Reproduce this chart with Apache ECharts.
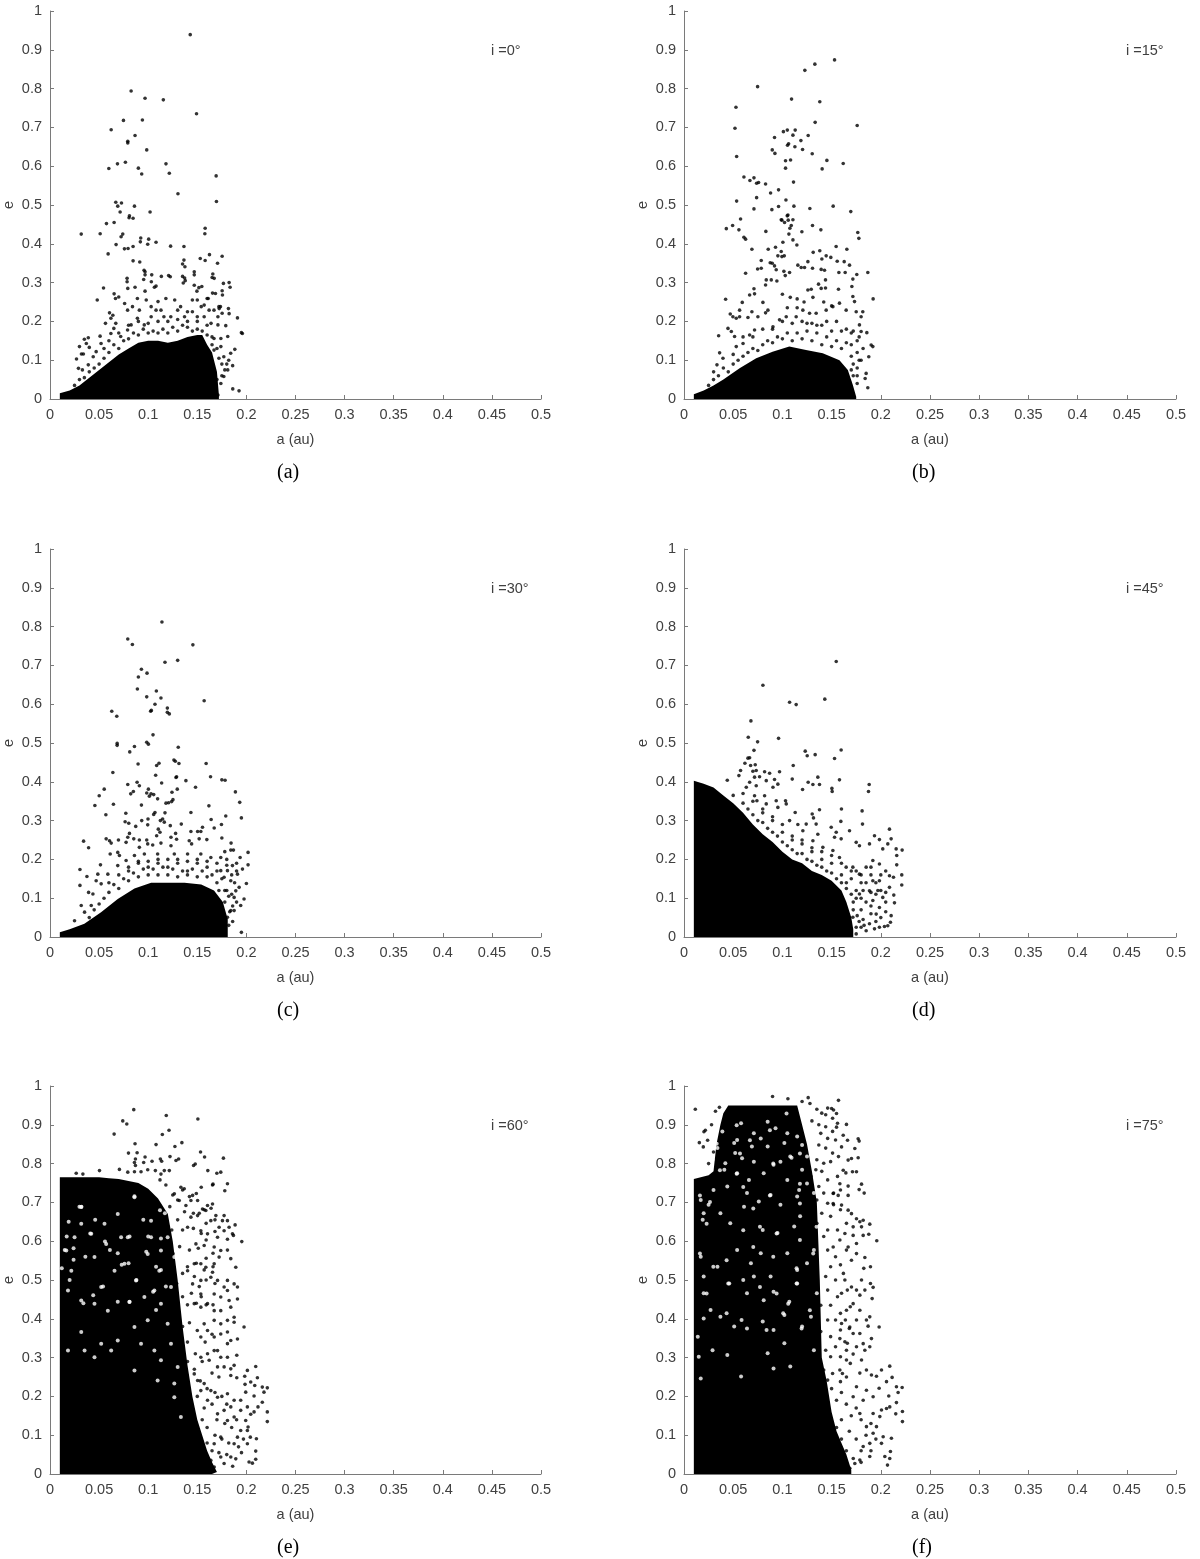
<!DOCTYPE html>
<html lang="en">
  <head>
    <meta charset="UTF-8" />
    <title>a-e scatter</title>
    <style>
      html, body { margin: 0; background: #fff; }
      #main { width: 1200px; height: 1559px; }
    </style>
  </head>
  <body>
    <div id="main"></div>
    <script src="https://cdn.jsdelivr.net/npm/echarts@6/dist/echarts.min.js"></script>
    <script>
      const inclinations = ["i =0°", "i =15°", "i =30°", "i =45°", "i =60°", "i =75°"];
      const captions = ["(a)", "(b)", "(c)", "(d)", "(e)", "(f)"];

      // individual dots, [a, e]
      const pointsA = [[.1428,.939],[.0826,.794],[.0968,.775],[.1154,.771],[.1492,.735],[.0748,.718],[.0941,.719],[.0623,.694],[.0866,.679],[.0792,.664],[.0792,.66],[.0985,.642],[.0768,.61],[.0687,.606],[.1181,.606],[.0599,.594],[.09,.595],[.0934,.58],[.1215,.582],[.1692,.575],[.1303,.529],[.1695,.509],[.067,.507],[.0728,.505],[.069,.497],[.086,.497],[.0714,.482],[.1019,.482],[.0809,.472],[.0805,.467],[.0846,.466],
        [.0318,.425],[.0511,.426],[.0575,.452],[.0653,.455],[.0741,.425],[.0724,.418],[.0673,.398],[.0592,.374],[.0758,.387],[.0795,.388],[.0846,.393],[.0924,.415],[.092,.405],[.1005,.412],[.0995,.399],[.108,.404],[.1228,.394],[.1364,.393],[.158,.44],[.1577,.426],[.153,.362],[.158,.357],[.1624,.372],[.1753,.368],[.1706,.35],[.0846,.356],[.0914,.353],[.1364,.358],[.135,.348],[.1374,.341],[.1469,.328],[.1469,.32],[.0958,.332],[.0968,.328],[.0968,.32],[.1036,.32],[.0954,.308],[.1032,.302],[.108,.291],[.1063,.288],[.1134,.316],[.1208,.318],[.1225,.315],[.135,.316],[.1371,.312],[.1357,.299],[.1377,.305],[.0785,.311],[.0785,.302],[.0792,.285],[.0545,.286],[.0866,.288],[.0968,.278],[.0481,.255],[.0653,.271],[.07,.263],[.0667,.259],[.1469,.293],[.1516,.287],[.1546,.29],[.1496,.278],[.1658,.322],[.1672,.311],[.1651,.313],[.1766,.298],[.1753,.279],[.1756,.268],[.1685,.272],[.1655,.273],[.1611,.259],[.1824,.3],[.1834,.288],[.1817,.233],[.1824,.22],[.1753,.221],[.1723,.233],[.1736,.238],[.1909,.209],[.1949,.171],[.1959,.169],[.1882,.128],[.1861,.026],[.1925,.021],
        [.039,.158],[.035,.154],[.03,.135],[.037,.143],[.04,.133],[.032,.116],[.034,.116],[.027,.103],[.029,.079],[.033,.075],[.039,.088],[.044,.109],[.051,.162],[.0565,.195],[.0606,.222],[.064,.216],[.062,.208],[.065,.182],[.067,.195],[.052,.143],[.047,.122],[.062,.169],[.072,.161],[.079,.178],[.0826,.191],[.089,.208],[.096,.191],[.103,.212],[.108,.229],[.113,.229],[.116,.212],[.123,.212],[.13,.229],[.133,.238],[.137,.212],[.127,.255],[.118,.259],[.11,.251],[.098,.255],[.089,.259],[.084,.238],[.076,.246],[.079,.229],[.091,.229],[.103,.238],[.145,.255],[.15,.255],[.154,.238],[.14,.225],[.145,.225],[.15,.212],[.157,.242],[.162,.229],[.16,.259],[.167,.229],[.172,.238],[.171,.212],[.157,.212],[.164,.195],[.171,.191],[.179,.189],[.167,.156],[.174,.156],[.181,.161],[.184,.118],[.186,.086],[.182,.1],[.177,.109],[.174,.135],[.167,.126],[.181,.075],[.177,.058],[.174,.04],[.169,.032],[.171,.01],
        [.05,.09],[.055,.105],[.06,.12],[.065,.14],[.07,.13],[.075,.15],[.08,.155],[.085,.17],[.09,.165],[.095,.18],[.1,.17],[.105,.175],[.11,.17],[.115,.18],[.12,.17],[.125,.185],[.13,.175],[.135,.19],[.14,.185],[.145,.175],[.15,.18],[.155,.175],[.16,.165],[.165,.16],[.165,.14],[.17,.13],[.172,.105],[.175,.09],[.178,.075],[.18,.09],[.175,.06],[.17,.05],[.168,.03],[.045,.08],[.04,.07],[.035,.055],[.03,.05],[.025,.035],[.055,.13],[.06,.15],[.07,.17],[.08,.19],[.09,.2],[.1,.195],[.11,.2],[.12,.2],[.13,.205],[.14,.2],[.15,.2],[.16,.19]];

      const pointsB = [[.153,.874],[.133,.863],[.1228,.847],[.0748,.805],[.1093,.773],[.138,.766],[.0528,.752],[.1333,.713],[.0518,.698],[.176,.705],[.113,.693],[.105,.693],[.101,.689],[.1107,.68],[.1262,.679],[.092,.674],[.1188,.666],[.1063,.658],[.1052,.654],[.1127,.65],[.1205,.643],[.0897,.642],[.0924,.633],[.1303,.632],[.0535,.625],[.1083,.616],[.1032,.614],[.1452,.615],[.1618,.607],[.1032,.595],[.1404,.593],[.0609,.572],[.0711,.57],[.067,.563],[.0738,.556],[.0758,.558],[.0829,.554],[.1113,.559],[.0961,.539],[.088,.531],[.0738,.519],[.0535,.51],[.1036,.513],[.1117,.497],[.0961,.496],[.0711,.49],[.0893,.488],[.1279,.491],[.1516,.497],[.1695,.483],[.1049,.472],[.0575,.464],[.0988,.462],[.1107,.462],
        [.043,.439],[.0494,.447],[.0558,.436],[.0609,.417],[.0626,.412],[.069,.386],[.0832,.432],[.0856,.386],[.093,.391],[.1005,.404],[.0988,.38],[.1019,.369],[.0995,.367],[.0954,.369],[.0785,.357],[.0876,.351],[.0897,.35],[.092,.343],[.0748,.335],[.0785,.337],[.0626,.324],[.0937,.333],[.1015,.329],[.1073,.326],[.1029,.318],[.1056,.474],[.0995,.461],[.1022,.455],[.1059,.461],[.109,.447],[.1076,.44],[.1066,.425],[.1107,.41],[.1147,.397],[.1198,.431],[.1306,.447],[.1391,.436],[.1313,.378],[.138,.382],[.1401,.361],[.1445,.369],[.1492,.365],[.1546,.393],[.1655,.386],[.1766,.429],[.1777,.414],[.1557,.355],[.1628,.354],[.1682,.345],[.1574,.326],[.1638,.326],[.1756,.321],[.1716,.309],[.1868,.326],[.1922,.258],[.1706,.29],[.1733,.251],[.1716,.264],[.157,.283],[.1157,.345],[.1191,.339],[.1259,.354],[.1306,.337],[.1225,.339],[.1394,.334],[.1428,.332],[.1259,.281],[.1293,.283],[.1367,.296],[.1438,.307],[.1394,.285],[.1438,.286],[.0836,.307],[.0887,.307],[.0829,.294],[.0944,.304],
        [.0423,.257],[.0592,.249],[.0711,.284],[.0667,.268],[.0717,.271],[.0802,.249],[.0853,.229],[.0829,.222],[.0565,.229],[.047,.219],[.0497,.212],[.0531,.208],[.0565,.212],[.065,.21],[.069,.225],[.0751,.212],[.0447,.182],[.0481,.174],[.0514,.161],[.0352,.163],[.0362,.119],[.0396,.105],[.0335,.088],[.0301,.07],[.0531,.135],[.06,.143],[.0667,.165],[.0717,.178],[.0904,.186],[.0971,.204],[.1039,.212],[.114,.212],[.1208,.229],[.1276,.221],[.1343,.221],[.1445,.229],[.1513,.238],[.158,.247],[.1648,.229],[.175,.225],[.18,.212],[.1817,.225],[.1783,.191],[.18,.174],[.1858,.171],[.1902,.139],[.1919,.135],[.1878,.109],[.1851,.066],[.1841,.053],[.1868,.029],[.1,.27],[.108,.262],[.115,.258],[.122,.25],[.131,.262],[.142,.25],[.15,.24],[.105,.235],[.115,.235],[.125,.195],[.135,.19],[.145,.2],[.155,.2],[.165,.18],[.172,.175],[.176,.15],[.17,.14],[.176,.12],[.18,.1],[.176,.08],[.172,.06],[.176,.04],[.17,.02],[.165,.015],
        [.045,.07],[.05,.09],[.055,.1],[.06,.11],[.065,.12],[.07,.13],[.075,.125],[.08,.14],[.085,.15],[.09,.145],[.095,.16],[.1,.155],[.105,.17],[.11,.15],[.115,.17],[.12,.155],[.125,.175],[.13,.15],[.135,.17],[.14,.14],[.145,.16],[.15,.135],[.155,.15],[.16,.13],[.165,.145],[.17,.11],[.172,.09],[.176,.06],[.178,.1],[.182,.13],[.07,.16],[.08,.18],[.09,.18],[.1,.2],[.11,.195],[.12,.2],[.13,.195],[.14,.19],[.15,.175],[.16,.175],[.17,.17],[.178,.16],[.17,.075],[.168,.045],[.05,.115],[.04,.08],[.035,.06],[.03,.05],[.025,.035],[.06,.16]];

      const pointsC = [[.114,.812],[.0792,.768],[.0839,.754],[.1455,.753],[.13,.713],[.1171,.708],[.0931,.69],[.0988,.68],[.09,.67],[.089,.639],[.1083,.634],[.0985,.619],[.113,.616],[.157,.609],[.1069,.6],[.1195,.59],[.1032,.584],[.1025,.582],[.1195,.579],[.1215,.575],[.0629,.582],[.068,.569],[.1049,.521],[.0985,.502],[.1002,.497],[.0684,.499],[.0684,.494],[.086,.491],[.0812,.477],[.1306,.489],[.1262,.456],[.1276,.453],[.1313,.447],[.111,.448],[.1086,.442],[.0897,.446],[.159,.447],[.064,.424],[.1076,.417],[.1289,.413],[.1283,.411],[.1635,.413],[.1384,.403],[.175,.405],[.1783,.404],[.1137,.397],[.0887,.399],[.091,.39],[.0792,.393],[.1482,.386],[.1296,.381],[.1002,.381],[.0552,.381],[.0501,.364],[.0849,.375],[.0822,.369],[.0985,.371],[.1012,.363],[.1056,.367],[.1029,.369],[.1242,.373],[.1888,.374],[.1096,.356],[.1252,.354],[.1239,.349],[.1181,.345],[.1208,.346],[.1932,.347],[.0646,.342],[.0457,.339],[.0931,.34],[.1618,.338],[.0569,.315],[.0772,.319],[.1069,.321],[.1056,.316],[.1171,.32],[.1435,.321],[.179,.312],[.1949,.307],[.1641,.303],[.1147,.304],[.1124,.3],[.1164,.296],[.0998,.304],[.0934,.3],[.0995,.289],[.0765,.297],[.0802,.293],[.0873,.285],[.1225,.287],[.1337,.291],[.1746,.29],[.1672,.281],[.1103,.278],[.112,.27],[.1086,.261],[.1553,.283],[.1503,.272],[.1536,.272],[.1435,.272],[.0809,.267],[.1279,.267],[.175,.255],[.1844,.242],[.0342,.247],[.0393,.23],[.0572,.253],[.0606,.248],[.0697,.25],[.0623,.242],[.0792,.257],[.0775,.244],[.0853,.253],[.091,.25],[.0985,.25],[.1232,.257],[.1289,.252],[.1418,.248],[.1442,.24],[.1597,.251],[.1519,.253],[.113,.242],[.1232,.235],[.091,.231],[.0995,.24],[.1046,.237],[.1841,.224],[.1868,.224],[.2017,.218],[.178,.22],[.0613,.214],[.069,.218],[.0707,.21],[.0514,.186],[.0305,.174],[.0376,.156],[.0487,.162],[.047,.145],[.0305,.133],[.0393,.115],[.0318,.081],[.2017,.186],[.1936,.205],[.196,.175],[.2,.138],[.1976,.098],[.1942,.081],[.1949,.012],[.1926,.128],[.1892,.119],[.1909,.162],[.1858,.184],[.1739,.205],[.1638,.205],[.1536,.214],[.1401,.214],[.1266,.214],[.1096,.214],[.0961,.214],[.086,.21],[.0775,.197],[.069,.184],[.0589,.162],[.0521,.137],[.0437,.111],[.042,.081],[.0352,.064],[.025,.042],
        [.1807,.171],[.1773,.154],[.1841,.145],[.1739,.171],[.1875,.102],[.1841,.068],[.1807,.051],[.1875,.068],[.1773,.034],[.1706,.025],[.08,.18],[.09,.19],[.1,.18],[.11,.19],[.12,.18],[.13,.19],[.14,.17],[.15,.19],[.16,.18],[.17,.19],[.18,.2],[.19,.19],[.185,.16],[.18,.12],[.185,.11],[.178,.09],[.182,.03],
        [.04,.05],[.045,.07],[.05,.085],[.055,.1],[.06,.115],[.065,.135],[.07,.125],[.075,.15],[.08,.145],[.085,.165],[.09,.155],[.095,.175],[.1,.16],[.105,.175],[.11,.16],[.115,.18],[.12,.16],[.125,.175],[.13,.155],[.135,.17],[.14,.16],[.145,.175],[.15,.155],[.155,.17],[.16,.155],[.165,.16],[.17,.14],[.175,.15],[.172,.12],[.178,.12],[.182,.105],[.186,.08],[.183,.065],[.186,.04],[.178,.02],[.19,.09],[.188,.14],[.06,.14],[.07,.16],[.08,.17],[.09,.195],[.1,.195],[.11,.2],[.12,.2],[.13,.2],[.14,.195],[.15,.2],[.16,.195],[.17,.17],[.18,.185],[.19,.17]];

      const pointsD = [[.1547,.71],[.0802,.649],[.1073,.605],[.114,.599],[.1431,.613],[.068,.557],[.0653,.515],[.0748,.503],[.0961,.512],[.0711,.481],[.1232,.479],[.1252,.467],[.1333,.47],[.1597,.482],[.153,.46],[.065,.461],[.0667,.462],[.0619,.448],[.0677,.442],[.0724,.444],[.111,.442],[.0575,.429],[.044,.404],[.0558,.416],[.07,.427],[.0734,.429],[.0819,.426],[.087,.422],[.0971,.426],[.11,.407],[.136,.412],[.158,.405],[.1262,.399],[.131,.393],[.1377,.393],[.1503,.383],[.1506,.375],[.1205,.38],[.1882,.393],[.1875,.375],[.181,.325],[.1814,.291],[.16,.33],[.1594,.298],[.1377,.328],[.1303,.317],[.1316,.307],
        [.0667,.399],[.0734,.39],[.0717,.412],[.0768,.413],[.0836,.403],[.0904,.386],[.0954,.394],[.092,.406],[.0633,.386],[.0717,.364],[.0819,.364],[.0741,.351],[.0836,.343],[.0937,.351],[.0954,.334],[.1039,.343],[.1032,.351],[.113,.321],[.1073,.3],[.1157,.29],[.1242,.291],[.1208,.274],[.1343,.291],[.136,.265],[.1496,.283],[.1547,.27],[.153,.257],[.1597,.253],[.1682,.274],[.175,.244],[.1783,.235],[.1885,.24],[.1936,.261],[.1986,.251],[.2088,.278],[.2105,.253],[.2156,.227],[.2217,.224],[.2162,.21],[.2071,.24],[.202,.227],[.2213,.16],[.2213,.134],[.2162,.186],[.2088,.158],[.2129,.154],[.2132,.108],[.2139,.088],[.2105,.055],[.2098,.038],[.2071,.029],[.2037,.027],[.1986,.025],[.1936,.021],[.2088,.128],[.202,.102],[.1986,.076],[.1919,.094],[.1953,.059],[.1885,.034],[.1851,.016],[.18,.025],[.175,.008],[.1783,.162],[.1851,.18],[.1919,.197],[.1986,.188],[.1716,.18],[.1648,.18],[.158,.205],[.1513,.223],[.1411,.231],[.131,.248],[.1919,.145],[.1885,.119],[.1986,.145],[.1783,.111],[.1716,.051],
        [.08,.33],[.09,.31],[.1,.29],[.11,.26],[.12,.25],[.13,.22],[.14,.2],[.15,.19],[.16,.16],[.17,.15],[.18,.14],[.19,.16],[.175,.12],[.185,.09],[.195,.11],[.18,.07],[.19,.06],[.172,.09],[.178,.04],[.195,.14],[.205,.17],[.2,.12],[.205,.09],[.165,.14],[.175,.17],[.185,.14],
        [.05,.365],[.06,.345],[.065,.33],[.07,.315],[.075,.3],[.08,.295],[.085,.28],[.09,.27],[.095,.26],[.1,.245],[.105,.235],[.11,.225],[.115,.215],[.12,.215],[.125,.2],[.13,.195],[.135,.185],[.14,.18],[.145,.17],[.15,.165],[.155,.15],[.16,.14],[.165,.125],[.17,.11],[.175,.1],[.18,.1],[.172,.07],[.176,.055],[.182,.045],[.19,.08],[.19,.115],[.197,.12],[.182,.12],[.168,.03],[.175,.025],[.183,.03],[.195,.04],[.2,.05],[.205,.065],[.205,.115],[.17,.17],[.18,.16],[.19,.18],[.2,.16],[.16,.19],[.15,.21],[.14,.22],[.13,.23],[.12,.24],[.11,.25],[.1,.27],[.09,.3],[.08,.32],[.07,.35],[.06,.37]];

      const pointsE = [[.0853,.939],[.1184,.924],[.1506,.915],[.0741,.91],[.0782,.902],[.0653,.876],[.1144,.875],[.1212,.886],[.0866,.851],[.108,.849],[.1343,.854],[.1272,.844],[.1533,.83],[.1574,.817],[.0799,.827],[.0887,.828],[.1766,.814],[.087,.812],[.086,.803],[.087,.795],[.0968,.817],[.0954,.803],[.1039,.806],[.1124,.812],[.1137,.806],[.1222,.818],[.1283,.808],[.131,.812],[.1479,.799],[.1462,.795],[.1607,.782],[.1699,.775],[.1739,.778],[.1807,.748],[.1655,.745],[.178,.73],[.0504,.782],[.0707,.785],[.0267,.775],[.0335,.773],[.0792,.778],[.086,.779],[.0927,.779],[.0995,.784],[.1073,.782],[.113,.773],[.1164,.782],[.1215,.782],
        [.1953,.599],[.1885,.642],[.1868,.615],[.1824,.636],[.1773,.666],[.1756,.653],[.1807,.653],[.1689,.666],[.1655,.696],[.1587,.679],[.1604,.692],[.1503,.705],[.1452,.718],[.1367,.735],[.1333,.739],[.1435,.705],[.1266,.722],[.1316,.705],[.1384,.692],[.1503,.666],[.1553,.683],[.1435,.662],[.1401,.636],[.1536,.627],[.1638,.653],[.1722,.636],[.1773,.627],[.1604,.619],[.1706,.61],[.1807,.605],[.1858,.619],[.1672,.585],[.157,.589],[.1486,.593],[.1739,.576],[.1722,.559],[.1807,.577],[.1841,.555],[.1892,.533],[.1875,.49],[.1909,.482],[.1909,.451],[.1976,.379],
        [.1807,.499],[.1773,.482],[.1706,.499],[.1638,.507],[.1536,.542],[.1587,.533],[.1672,.542],[.1655,.52],[.1536,.499],[.1469,.542],[.1401,.524],[.1452,.49],[.1536,.464],[.1672,.464],[.1739,.456],[.1807,.473],[.1841,.43],[.1875,.404],[.1875,.391],[.1824,.447],[.1739,.421],[.1672,.421],[.1604,.439],[.1536,.43],[.1469,.439],[.157,.387],[.1672,.396],[.1739,.387],[.1807,.396],[.1739,.361],[.1807,.366],[.1672,.353],[.1604,.37],[.1536,.353],[.1706,.318],[.1807,.336],[.1841,.344],[.1909,.348],[.1902,.306],[.1875,.28],[.1807,.301],[.1739,.301],[.1672,.318],[.1604,.31],[.1536,.301],[.1621,.293],[.1706,.276],[.1773,.276],[.1841,.271],[.1841,.254],[.1902,.248],[.201,.267],[.2095,.277],[.2112,.248],[.1983,.252],[.2044,.237],[.2085,.228],[.1986,.231],[.1993,.211],[.2162,.224],[.2213,.222],[.2179,.211],[.2078,.201],[.2162,.185],[.2213,.16],[.2213,.135],[.2118,.173],[.2078,.16],[.2044,.154],[.201,.173],[.1993,.138],[.2017,.121],[.2102,.091],[.2095,.059],[.2095,.038],[.2061,.028],[.2027,.031],[.201,.078],[.201,.112],[.1942,.112],[.1909,.095],[.1892,.039],[.1875,.078],[.1841,.044],[.1773,.027],[.1739,.044],[.1672,.018],[.1638,.035],[.1672,.078],[.1739,.095],[.1807,.138],[.1875,.147],[.1942,.164],[.1841,.173],[.1773,.164],[.1706,.198],[.1638,.215],[.157,.233],[.1503,.241],[.1469,.258],[.1536,.215],[.1604,.19],[.1706,.155],[.1807,.207],[.1875,.19],[.1942,.19],
        [.166,.747],[.154,.739],[.149,.723],[.142,.715],[.135,.732],[.13,.706],[.125,.719],[.118,.745],[.112,.758],[.157,.681],[.164,.685],[.168,.655],[.159,.646],[.152,.672],[.146,.672],[.137,.676],[.13,.655],[.135,.629],[.146,.633],[.154,.62],[.168,.625],[.159,.603],[.151,.582],[.142,.577],[.166,.569],[.159,.556],[.149,.543],[.14,.534],[.135,.517],[.147,.509],[.157,.526],[.166,.534],[.159,.5],[.168,.491],[.152,.483],[.144,.466],[.135,.457],[.154,.457],[.166,.436],[.159,.436],[.149,.44],[.14,.436],[.13,.431],[.129,.491],[.122,.526],[.125,.569],[.132,.586],[.124,.629],[.122,.689],
        [.135,.38],[.142,.39],[.15,.37],[.158,.34],[.165,.36],[.14,.34],[.148,.31],[.155,.29],[.165,.26],[.172,.25],[.14,.29],[.147,.27],[.153,.24],[.16,.22],[.168,.21],[.175,.2],[.18,.18],[.15,.2],[.157,.17],[.165,.18],[.17,.14],[.178,.13],[.185,.12],[.19,.14],[.16,.12],[.168,.1],[.175,.09],[.182,.08],[.192,.07],[.165,.06],[.172,.055],[.18,.05],[.186,.02],[.195,.055],[.197,.09],[.204,.095],[.155,.14],[.16,.08],[.158,.03],[.15,.05]];

      const pointsF = [[.0115,.94],[.0156,.854],[.0196,.843],[.0217,.886],[.0203,.882],[.09,.973],[.1056,.967],[.1262,.97],[.157,.963],[.15,.942],[.155,.929],[.1651,.901],[.155,.894],[.1618,.873],[.1662,.86],[.177,.864],[.178,.858],[.1736,.839],[.1601,.843],[.1702,.813],[.177,.815],[.1668,.809],[.1618,.783],[.1645,.776],[.1712,.779],[.1753,.779],[.1804,.747],[.178,.733],[.1831,.724],[.1584,.748],[.1668,.742],[.1516,.723],[.1668,.718],[.1567,.718],[.1516,.697],[.1601,.693],[.1668,.68],[.1702,.671],[.1753,.658],[.1821,.654],[.1787,.65],[.1888,.644],[.1804,.637],[.1651,.646],[.1719,.637],[.1635,.62],[.1719,.615],[.1821,.615],[.1878,.618],[.1959,.601],[.1584,.603],[.1668,.585],[.1753,.594],[.1838,.558],[.1895,.534],[.1827,.53],[.1651,.577],[.1516,.585],[.1753,.568],[.1702,.551],[.1804,.5],[.1895,.491],[.1922,.481],[.1838,.474],[.1912,.452],[.1753,.474],[.1787,.461],[.1702,.482],[.1635,.5],[.1601,.466],[.1719,.439],[.1651,.422],[.1787,.422],[.1888,.405],[.1854,.397],[.1871,.381],[.1983,.379],[.1753,.397],[.1685,.379],[.1601,.388],[.1787,.362],[.1719,.362],[.1821,.336],[.1905,.349],[.1888,.328],[.1838,.319],[.1753,.328],[.1635,.341],[.1584,.349],[.1651,.319],[.1804,.294],[.1854,.268],[.1905,.255],[.1719,.309],[.2091,.278],[.2007,.268],[.2115,.249],[.1956,.252],[.2058,.238],[.2159,.225],[.2217,.223],[.2176,.21],[.2081,.201],[.1983,.221],[.2159,.184],[.2091,.173],[.2058,.169],[.2007,.165],[.222,.161],[.2152,.155],[.222,.135],[.199,.148],[.2108,.092],[.2098,.058],[.2041,.045],[.2068,.023],[.2091,.04],[.2007,.079],[.2024,.096],[.1922,.105],[.1956,.122],[.1888,.079],[.1888,.045],[.1821,.071],[.1787,.036],[.1736,.027],[.1685,.015],[.1854,.122],[.1787,.156],[.1922,.156],[.1821,.19],[.1922,.199],[.1719,.199],[.1753,.225],[.1854,.216],[.1651,.25],[.1584,.268],[.1651,.294],[.1787,.26],
        [.146,.943],[.152,.938],[.144,.926],[.151,.917],[.156,.904],[.144,.895],[.151,.883],[.139,.878],[.146,.865],[.154,.861],[.137,.848],[.144,.84],[.151,.827],[.157,.818],[.135,.81],[.142,.801],[.149,.805],[.134,.784],[.14,.78],[.129,.767],[.146,.758],[.156,.767],[.137,.741],[.142,.724],[.152,.724],[.159,.732],[.135,.706],[.146,.698],[.152,.694],[.14,.672],[.159,.681],[.149,.664],[.135,.646],[.146,.629],[.156,.629],[.142,.612],
        [.146,.577],[.154,.56],[.149,.534],[.159,.539],[.144,.509],[.154,.5],[.162,.517],[.135,.496],[.146,.474],[.156,.457],[.166,.474],[.139,.435],[.149,.435],[.159,.414],[.169,.431],[.146,.397],[.154,.397],[.164,.397],[.139,.367],[.149,.354],[.159,.371],[.168,.375],[.144,.319],[.154,.328],[.166,.337],[.149,.302],[.159,.302],[.142,.268],[.151,.259],[.161,.259],[.169,.285],[.146,.242],[.159,.238],
        [.15,.22],[.155,.19],[.16,.21],[.165,.18],[.17,.15],[.175,.17],[.18,.14],[.185,.1],[.19,.13],[.16,.14],[.168,.11],[.175,.09],[.18,.06],[.19,.06],[.195,.09],[.165,.06],[.172,.04],[.16,.09],[.155,.12],[.18,.03],
        [.025,.8],[.03,.83],[.024,.86],[.028,.9],[.032,.935],[.036,.945],[.12,.96],[.128,.955],[.135,.94],[.14,.93],[.13,.91],[.137,.9]];

      // upper edge of the part drawn solid, [a, e]
      const coreA = [[.01,.015],[.02,.022],[.03,.035],[.04,.055],[.05,.075],[.06,.095],[.07,.115],[.08,.13],[.09,.145],[.1,.15],[.11,.15],[.12,.145],[.13,.15],[.14,.16],[.15,.165],[.155,.165],[.16,.14],[.165,.12],[.17,.07],[.172,.01]];
      const coreB = [[.01,.012],[.02,.022],[.03,.035],[.04,.05],[.0565,.079],[.0734,.105],[.09,.122],[.107,.135],[.124,.126],[.141,.118],[.158,.1],[.1665,.075],[.1716,.036],[.175,.006]];
      const coreC = [[.01,.012],[.02,.02],[.035,.034],[.052,.064],[.069,.098],[.086,.125],[.103,.14],[.12,.14],[.137,.14],[.154,.135],[.167,.12],[.176,.09],[.181,.046]];
      const coreD = [[.01,.403],[.02,.395],[.03,.385],[.04,.365],[.05,.345],[.06,.32],[.07,.29],[.08,.265],[.09,.245],[.1,.22],[.11,.2],[.12,.19],[.13,.17],[.14,.16],[.15,.145],[.16,.12],[.165,.09],[.17,.05],[.172,.02]];
      const coreE = [[.01,.765],[.05,.765],[.06,.762],[.07,.76],[.08,.755],[.09,.75],[.1,.735],[.11,.71],[.12,.67],[.125,.6],[.13,.5],[.135,.38],[.14,.28],[.145,.2],[.15,.14],[.155,.1],[.16,.06],[.165,.03],[.17,.005]];
      const coreF = [[.01,.76],[.025,.77],[.03,.78],[.033,.85],[.037,.9],[.04,.93],[.045,.95],[.1,.95],[.115,.95],[.12,.9],[.125,.85],[.13,.78],[.135,.7],[.138,.5],[.14,.3],[.145,.24],[.15,.16],[.155,.11],[.16,.08],[.165,.05],[.17,.01]];

      // white holes seen inside the dense clouds
      const gapsE = [[.0995,.567],[.0809,.443],[.1113,.524],[.0876,.499],[.0572,.593],[.0318,.688],[.0166,.576],[.0589,.421],[.0318,.366],[.0453,.301],[.1266,.233],[.1063,.473],[.0758,.542],[.042,.619],[.025,.61],[.0724,.61],[.0183,.473],[.0318,.447],[.0521,.482],[.0453,.439],[.1029,.653],[.0792,.61],[.0217,.524],[.1198,.61],[.1266,.559],[.113,.439],[.0995,.396],[.086,.379],[.1198,.387],[.1063,.318],[.1232,.336],[.13,.276],[.113,.293],[.0927,.336],[.069,.344],[.0521,.336],[.0623,.318],[.0352,.318],[.0183,.318],[.086,.267],[.1096,.241],[.1266,.198],[.1333,.147],[.0453,.559],[.0657,.524],[.0961,.456],[.1232,.482],[.113,.576],[.0318,.645],[.0555,.645],[.086,.713],[.1029,.61],[.069,.67],
        [.03,.689],[.032,.689],[.086,.716],[.015,.577],[.024,.582],[.036,.56],[.024,.552],[.041,.62],[.056,.599],[.073,.539],[.098,.573],[.081,.444],[.088,.5],[.108,.534],[.113,.526],[.105,.47],[.034,.44],[.054,.483],[.019,.65],[.046,.655],[.095,.655],[.017,.612],[.1,.612],[.081,.612],[.113,.607],[.069,.569],[.08,.543],[.044,.461],[.061,.577],[.012,.53],[.02,.5],[.069,.444],[.118,.483],[.129,.599],[.117,.672],[.112,.68],[.13,.552],[.135,.509],[.108,.423]];
      const gapsF = [[.0569,.826],[.1093,.815],[.0535,.899],[.067,.86],[.0907,.8],[.0332,.851],[.0602,.74],[.0873,.718],[.0704,.684],[.0264,.701],[.0162,.718],[.0602,.628],[.0704,.585],[.023,.645],[.0162,.568],[.0433,.551],[.1144,.53],[.045,.491],[.0941,.465],[.023,.465],[.1059,.439],[.1144,.491],[.0772,.482],[.1195,.375],[.1008,.414],[.0585,.397],[.0433,.414],[.0839,.371],[.1347,.637],[.1313,.568],[.1178,.603],[.0907,.56],[.0602,.5],[.0298,.534],[.1178,.697],[.0941,.62],[.1279,.422],[.1178,.748],[.0772,.637],[.0535,.774],[.0365,.783],[.1279,.886],[.1178,.826],[.0873,.886],[.1042,.929],
        [.03,.926],[.039,.883],[.058,.904],[.052,.827],[.042,.801],[.059,.814],[.071,.805],[.108,.818],[.078,.865],[.098,.805],[.085,.844],[.093,.891],[.115,.87],[.066,.758],[.054,.775],[.088,.719],[.105,.758],[.12,.784],[.125,.749],[.041,.784],[.081,.775],[.064,.724],[.044,.741],[.03,.732],[.017,.706],[.025,.694],[.037,.672],[.061,.689],[.076,.702],[.098,.694],[.115,.715],[.019,.655],[.047,.646],[.08,.629],[.095,.621],[.112,.638],[.02,.672],[.118,.664],[.132,.724],[.051,.853],[.034,.84],[.102,.853],[.069,.844],[.125,.818],[.12,.848],[.105,.878],[.085,.908],[.071,.878],[.054,.861],[.029,.81],[.091,.797],[.117,.732],
        [.017,.56],[.046,.491],[.02,.466],[.068,.543],[.091,.47],[.107,.444],[.115,.491],[.081,.448],[.064,.466],[.054,.577],[.034,.534],[.102,.41],[.12,.38],[.08,.393],[.027,.423],[.02,.401],[.037,.405],[.051,.38],[.064,.375],[.091,.371],[.014,.354],[.029,.319],[.044,.307],[.015,.302],[.085,.311],[.102,.337],[.129,.405],[.135,.466],[.091,.272],[.058,.251],[.108,.277],[.132,.319],[.125,.543],[.115,.526],[.132,.577],[.105,.569],[.078,.569],[.088,.509],[.071,.509],[.02,.509],[.017,.246]];

      const points = [pointsA, pointsB, pointsC, pointsD, pointsE, pointsF];
      const cores = [coreA, coreB, coreC, coreD, coreE, coreF];
      const gaps = [[], [], [], [], gapsE, gapsF];

      const lefts = [49, 684];
      const tops = [11, 549, 1086];
      const axisColor = "#7a7a7a";
      const textColor = "#404040";

      const grid = [], xAxis = [], yAxis = [], series = [], title = [];

      for (let i = 0; i < 6; i++) {
        const left = lefts[i % 2], top = tops[Math.floor(i / 2)];
        grid.push({ left: left, top: top, width: 492, height: 388 });
        const common = {
          gridIndex: i, type: "value", splitLine: { show: false },
          axisLine: { onZero: false, lineStyle: { color: axisColor, width: 1 } },
          axisTick: { inside: true, length: 4, lineStyle: { color: axisColor } },
          axisLabel: { color: textColor, fontFamily: "Liberation Sans", fontSize: 14.5, margin: 8 },
          nameLocation: "middle",
          nameTextStyle: { color: textColor, fontFamily: "Liberation Sans", fontSize: 14.5 },
        };
        xAxis.push({ ...common, min: 0, max: 0.5, interval: 0.05, name: "a (au)", nameGap: 33 });
        yAxis.push({ ...common, min: 0, max: 1, interval: 0.1, name: "e", nameGap: 34 });
        series.push({
          type: "line", xAxisIndex: i, yAxisIndex: i, data: cores[i], z: 3, silent: true,
          showSymbol: false, lineStyle: { width: 0 }, areaStyle: { color: "#000", opacity: 1 },
        });
        series.push({
          type: "scatter", xAxisIndex: i, yAxisIndex: i, data: points[i], z: 5, silent: true,
          symbolSize: 3.6, itemStyle: { color: "#000" },
        });
        if (gaps[i].length) {
          series.push({
            type: "scatter", xAxisIndex: i, yAxisIndex: i, data: gaps[i], z: 4, silent: true,
            symbolSize: 4, itemStyle: { color: "#fff" },
          });
        }
        title.push({
          text: inclinations[i], left: left + 437, top: top + 27,
          textStyle: { color: textColor, fontFamily: "Liberation Sans", fontSize: 14.5, fontWeight: "normal" },
        });
        title.push({
          text: captions[i], left: left + 223, top: top + 447,
          textStyle: { color: "#000", fontFamily: "Liberation Serif", fontSize: 20, fontWeight: "normal" },
        });
      }

      const myChart = echarts.init(document.getElementById("main"));
      myChart.setOption({ animation: false, backgroundColor: "#fff", grid, xAxis, yAxis, series, title });
    </script>
  </body>
</html>
